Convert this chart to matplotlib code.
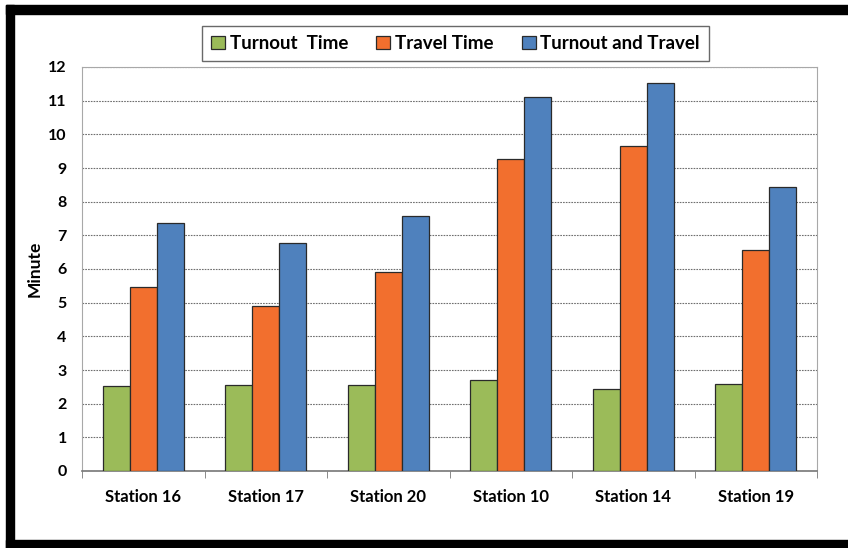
import numpy as np
import matplotlib
matplotlib.use('Agg')
import matplotlib.pyplot as plt
from matplotlib.patches import Rectangle

plt.rcParams['font.family'] = ['Lato', 'DejaVu Sans']
plt.rcParams['font.weight'] = 'bold'

stations = ['Station 16', 'Station 17', 'Station 20', 'Station 10', 'Station 14', 'Station 19']
turnout = [2.52, 2.55, 2.55, 2.70, 2.43, 2.59]
travel = [5.48, 4.90, 5.90, 9.28, 9.66, 6.55]
total = [7.37, 6.77, 7.57, 11.11, 11.53, 8.43]

series = [('Turnout  Time', turnout, '#9BBB59'),
          ('Travel Time', travel, '#F26F2E'),
          ('Turnout and Travel', total, '#4F81BD')]

fig = plt.figure(figsize=(8.48, 5.48), dpi=100)
W, H = 848, 548
ax = fig.add_axes([82 / W, 1 - 471 / H, (817 - 82) / W, (471 - 67) / H])

x = np.arange(len(stations))
w = 0.22
for i, (name, vals, col) in enumerate(series):
    ax.bar(x + (i - 1) * w, vals, w, color=col, edgecolor='#2a2a2a',
           linewidth=0.9, label=name, zorder=3)

ax.set_xlim(-0.5, len(stations) - 0.5)
ax.set_ylim(0, 12)
ax.set_yticks(range(0, 13))
ax.yaxis.grid(True, color='#6f6f6f', linestyle=(0, (1.5, 1)), linewidth=0.8, zorder=0)
ax.set_xticks(x)
ax.set_xticklabels(stations, fontsize=12, fontweight='bold')
ax.set_xticks(np.arange(-0.5, len(stations)), minor=True)
ax.tick_params(axis='x', which='major', length=0, pad=13)
ax.tick_params(axis='x', which='minor', length=5, color='#777777', direction='out')
ax.tick_params(axis='y', length=0, pad=11, labelsize=11.5)
for lab in ax.get_yticklabels():
    lab.set_fontweight('bold')
for s in ['top', 'right', 'left']:
    ax.spines[s].set_color('#a8a8a8')
ax.spines['bottom'].set_color('#777777')
ax.spines['bottom'].set_linewidth(1.2)
ax.set_ylabel('Minute', fontsize=12.5, fontweight='bold', labelpad=4)

leg = fig.legend(loc='center', bbox_to_anchor=((202 + 709) / 2 / W, 1 - 43.5 / H),
                 ncol=3, fontsize=13.5, frameon=True, fancybox=False,
                 handlelength=0.75, handleheight=0.75, handletextpad=0.25,
                 columnspacing=1.5, borderpad=0.5, borderaxespad=0)
leg.get_frame().set_edgecolor('#444444')
leg.get_frame().set_linewidth(1.0)
for t in leg.get_texts():
    t.set_fontweight('bold')

# black frame on top, left and bottom
fig.patches.append(Rectangle((6 / W, 1 - 14 / H), 1, 9 / H, transform=fig.transFigure,
                             color='black', zorder=10))
fig.patches.append(Rectangle((6 / W, 0), 8 / W, 1 - 5 / H, transform=fig.transFigure,
                             color='black', zorder=10))
fig.patches.append(Rectangle((6 / W, 0), 1, 8 / H, transform=fig.transFigure,
                             color='black', zorder=10))

fig.savefig('out.png', dpi=100)
